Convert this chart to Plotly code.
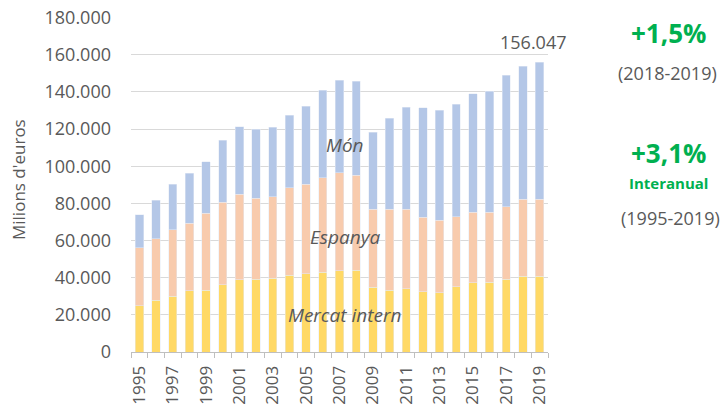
import plotly.graph_objects as go

years = list(range(1995, 2020))
totals = [74.0, 81.6, 90.4, 96.1, 102.4, 114.1, 121.1, 120.0, 120.9, 127.4, 132.2, 140.8,
          146.2, 145.7, 118.4, 125.7, 131.7, 131.5, 130.1, 133.3, 138.9, 140.3, 148.9, 153.9, 156.047]
esp_top = [56.2, 60.9, 65.7, 69.2, 74.7, 80.5, 84.8, 82.8, 83.5, 88.4, 90.2, 93.9,
           96.6, 95.2, 76.9, 76.7, 76.9, 72.6, 71.0, 72.9, 75.1, 75.1, 78.1, 82.1, 82.1]
mercat = [24.8, 27.8, 30.0, 32.9, 33.2, 36.1, 39.0, 39.2, 39.7, 41.3, 42.0, 42.8,
          43.6, 44.0, 34.8, 33.2, 34.1, 32.5, 32.0, 35.2, 37.2, 37.5, 39.2, 40.8, 40.8]

mercat_v = [m * 1000 for m in mercat]
espanya_v = [(e - m) * 1000 for e, m in zip(esp_top, mercat)]
mon_v = [(t - e) * 1000 for t, e in zip(totals, esp_top)]

yticks = list(range(0, 180001, 20000))
yticktext = ["0"] + [f"{v//1000}.000" for v in yticks[1:]]
xtickvals = [y for y in years if y % 2 == 1]

FONT = "'Open Sans', sans-serif"
GRAY = "#595959"
GREEN = "#00B050"

W, H = 726, 410
L, R, T, B = 131, 178, 17, 58
PW, PH = W - L - R, H - T - B

def px(xw):
    return (xw - L) / PW

def py(yw):
    return (H - B - yw) / PH

fig = go.Figure()
fig.add_bar(x=years, y=mercat_v, name="Mercat intern", marker_color="#FFD966", width=0.5)
fig.add_bar(x=years, y=espanya_v, name="Espanya", marker_color="#F8CBAD", width=0.5)
fig.add_bar(x=years, y=mon_v, name="Món", marker_color="#B4C7E7", width=0.5)

fig.update_layout(
    barmode="stack",
    width=W, height=H,
    margin=dict(l=L, r=R, t=T, b=B),
    paper_bgcolor="white", plot_bgcolor="white",
    showlegend=False,
    font=dict(family=FONT, color=GRAY, size=17),
    xaxis=dict(
        range=[1994.5, 2019.5], tickmode="array", tickvals=xtickvals,
        ticktext=[str(v) for v in xtickvals], tickangle=-90, ticks="",
        showline=True, linecolor="#BFBFBF", linewidth=1, showgrid=False,
        tickfont=dict(size=17, color=GRAY), automargin=False,
        ticklabelstandoff=6, ticklabeloverflow="allow",
        minor=dict(ticks="outside", tick0=1994.5, dtick=1, ticklen=5, tickcolor="#BFBFBF", showgrid=False),
    ),
    yaxis=dict(
        range=[0, 180300], tickmode="array", tickvals=yticks, ticktext=yticktext,
        showgrid=True, gridcolor="#D9D9D9", gridwidth=1, zeroline=False,
        tickfont=dict(size=18, color=GRAY), ticks="", automargin=False,
        ticklabelstandoff=19,
    ),
)

fig.add_annotation(xref="paper", yref="paper", x=px(18), y=py(180), text="Milions d'euros",
                   textangle=-90, showarrow=False, xanchor="center", yanchor="middle",
                   font=dict(size=17, color=GRAY))

fig.add_annotation(x=2019, y=totals[-1] * 1000, text="156.047", showarrow=False,
                   yshift=20, xshift=-7, xanchor="center", yanchor="middle",
                   font=dict(size=18, color=GRAY))
fig.add_annotation(x=2007.3, y=111500, text="<i>Món</i>", showarrow=False,
                   font=dict(size=19, color=GRAY))
fig.add_annotation(x=2007.3, y=62000, text="<i>Espanya</i>", showarrow=False,
                   font=dict(size=19, color=GRAY))
fig.add_annotation(x=2007.3, y=20000, text="<i>Mercat intern</i>", showarrow=False,
                   font=dict(size=19, color=GRAY))

side = [
    ("<b>+1,5%</b>", 668, 33, 26, GREEN),
    ("(2018-2019)", 667, 73, 18, GRAY),
    ("<b>+3,1%</b>", 668, 153, 26, GREEN),
    ("<b>Interanual</b>", 668, 183, 15, GREEN),
    ("(1995-2019)", 670, 218, 18, GRAY),
]
for txt, xw, yw, sz, col in side:
    fig.add_annotation(xref="paper", yref="paper", x=px(xw), y=py(yw), text=txt,
                       showarrow=False, xanchor="center", yanchor="middle",
                       font=dict(size=sz, color=col))

fig.write_html("out.html", config={"displayModeBar": False},
               post_script="document.body.style.margin='0';")
